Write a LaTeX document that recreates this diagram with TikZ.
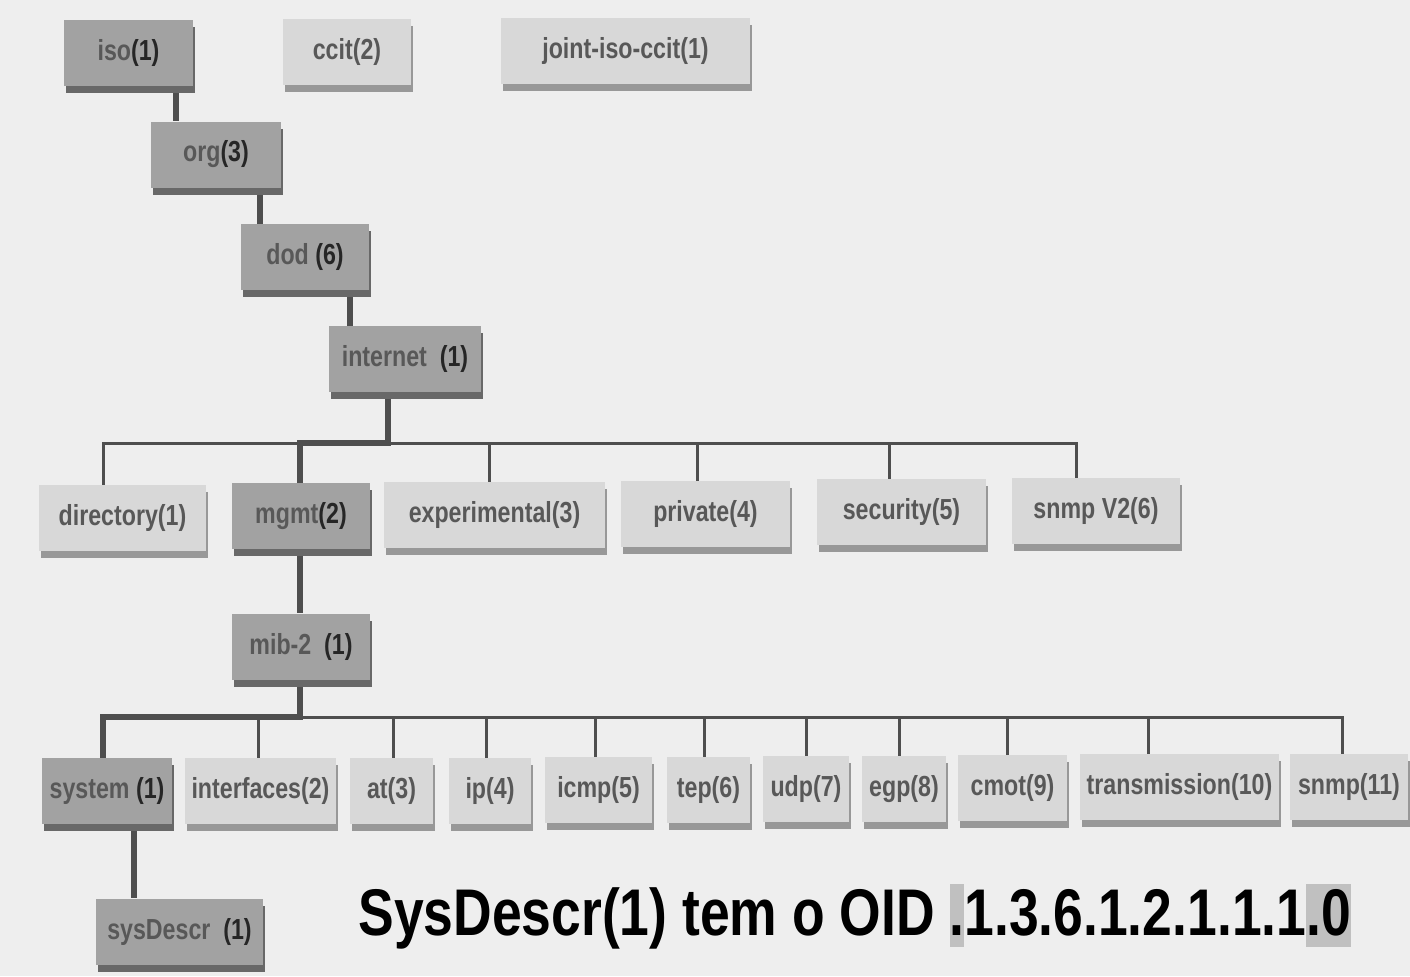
\documentclass[tikz,border=0pt]{standalone}
\usepackage{fontspec}
\usetikzlibrary{shadows}
\newfontfamily\lblfont[FakeStretch=0.8]{Liberation Sans}
\newfontfamily\capfont[FakeStretch=0.81]{Liberation Sans}
\definecolor{paper}{HTML}{EEEEEE}
\definecolor{boxdark}{HTML}{A2A2A2}
\definecolor{boxlight}{HTML}{D8D8D8}
\definecolor{edgedark}{HTML}{686868}
\definecolor{edgelight}{HTML}{989898}
\definecolor{wire}{HTML}{4E4E4E}
\definecolor{namegray}{HTML}{585858}
\definecolor{hlgray}{HTML}{C0C0C0}
\pgfdeclarelayer{paperlayer}
\pgfdeclarelayer{wirelayer}
\pgfsetlayers{paperlayer,wirelayer,main}
\newcommand{\oidnum}[1]{\textcolor{black!85}{#1}}
\newcommand{\hlbox}[1]{{\fboxsep=0pt\colorbox{hlgray}{\rule[-6pt]{0pt}{31.5pt}#1}}}
\tikzset{
  mibbox/.style={font={\lblfont\bfseries\fontsize{14.5}{17}\selectfont}, text=namegray, inner sep=0pt, minimum height=33pt},
  darkbox/.style={mibbox, fill=boxdark, drop shadow={shadow xshift=1pt, shadow yshift=-3.5pt, opacity=1, fill=edgedark}},
  lightbox/.style={mibbox, fill=boxlight, drop shadow={shadow xshift=1pt, shadow yshift=-3.5pt, opacity=1, fill=edgelight}},
  trunk/.style={draw=wire, line width=3.2pt},
  branch/.style={draw=wire, line width=1.5pt},
}
\begin{document}
\begin{tikzpicture}[x=0.5pt, y=-0.5pt]
\begin{pgfonlayer}{paperlayer}
  \fill[paper] (0,0) rectangle (1410,976);
\end{pgfonlayer}
\useasboundingbox (0,0) rectangle (1410,976);

% top of the tree
\node[darkbox, minimum width=64.5pt] (iso) at (128.5,52.5) {iso\oidnum{(1)}};
\node[lightbox, minimum width=64pt] (ccit) at (347,51.5) {ccit(2)};
\node[lightbox, minimum width=124.5pt] (joint) at (625.5,50.5) {joint-iso-ccit(1)};
\node[darkbox, minimum width=65pt] (org) at (216,154.5) {org\oidnum{(3)}};
\node[darkbox, minimum width=64pt] (dod) at (305,257) {dod \oidnum{(6)}};
\node[darkbox, minimum width=76pt] (internet) at (405,359) {internet \ \oidnum{(1)}};

% under internet
\node[lightbox, minimum width=83.5pt] (directory) at (122.5,518) {directory(1)};
\node[darkbox, minimum width=69pt] (mgmt) at (301,516) {mgmt\oidnum{(2)}};
\node[lightbox, minimum width=110.5pt] (experimental) at (494.5,515) {experimental(3)};
\node[lightbox, minimum width=84.5pt] (private) at (705.5,514) {private(4)};
\node[lightbox, minimum width=84.5pt] (security) at (901.5,512) {security(5)};
\node[lightbox, minimum width=84pt] (snmpv2) at (1096,511) {snmp V2(6)};

\node[darkbox, minimum width=69pt] (mib2) at (301,646.5) {mib-2 \ \oidnum{(1)}};

% under mib-2
\node[darkbox, minimum width=65pt] (system) at (107,791) {system \oidnum{(1)}};
\node[lightbox, minimum width=75.5pt] (interfaces) at (260.5,791) {interfaces(2)};
\node[lightbox, minimum width=41.5pt] (at) at (391.5,791) {at(3)};
\node[lightbox, minimum width=41pt] (ip) at (490,791) {ip(4)};
\node[lightbox, minimum width=53.5pt] (icmp) at (598.5,790) {icmp(5)};
\node[lightbox, minimum width=41.5pt] (tep) at (708.5,790) {tep(6)};
\node[lightbox, minimum width=43pt] (udp) at (806,789) {udp(7)};
\node[lightbox, minimum width=42pt] (egp) at (904,789) {egp(8)};
\node[lightbox, minimum width=54.5pt] (cmot) at (1012.5,788) {cmot(9)};
\node[lightbox, minimum width=99.5pt] (transmission) at (1179.5,787) {transmission(10)};
\node[lightbox, minimum width=59pt] (snmp) at (1349,787) {snmp(11)};

\node[darkbox, minimum width=83.5pt] (sysdescr) at (179.5,931.5) {sysDescr \ \oidnum{(1)}};

\node[anchor=base west, inner sep=0pt, font={\capfont\bfseries\fontsize{33}{40}\selectfont}] (oid) at (358,935)
  {SysDescr(1) tem o OID \hlbox{.}1.3.6.1.2.1.1.1\hlbox{.0}};

\coordinate (bus1) at (388,443);
\coordinate (bus2) at (300,717);

\begin{pgfonlayer}{wirelayer}
  \draw[trunk] ([xshift=23.75pt]iso.south) -- ([xshift=-20pt]org.north);
  \draw[trunk] ([xshift=22pt]org.south) -- ([xshift=-22.5pt]dod.north);
  \draw[trunk] ([xshift=22.5pt]dod.south) -- ([xshift=-27.5pt]internet.north);
  % first level of branches
  \foreach \n/\s in {directory/-9.75, experimental/-2.75, private/-4.25, security/-6.25, snmpv2/-10}
    \draw[branch] (bus1) -| ([xshift=\s pt]\n.north);
  \draw[trunk] ([xshift=-8.5pt]internet.south) |- (bus1) -| ([xshift=-0.5pt]mgmt.north);
  \draw[trunk] ([xshift=-0.5pt]mgmt.south) -- ([xshift=-0.5pt]mib2.north);
  % second level of branches
  \foreach \n/\s in {interfaces/-1.25, at/0.75, ip/-2, icmp/-1.75, tep/-2.25, udp/0, egp/-2.5, cmot/-2.75, transmission/-15.75, snmp/-3.5}
    \draw[branch] (bus2) -| ([xshift=\s pt]\n.north);
  \draw[trunk] ([xshift=-0.5pt]mib2.south) |- (bus2) -| ([xshift=-2pt]system.north);
  \draw[trunk] ([xshift=13.5pt]system.south) -- ([xshift=-22.75pt]sysdescr.north);
\end{pgfonlayer}
\end{tikzpicture}
\end{document}
